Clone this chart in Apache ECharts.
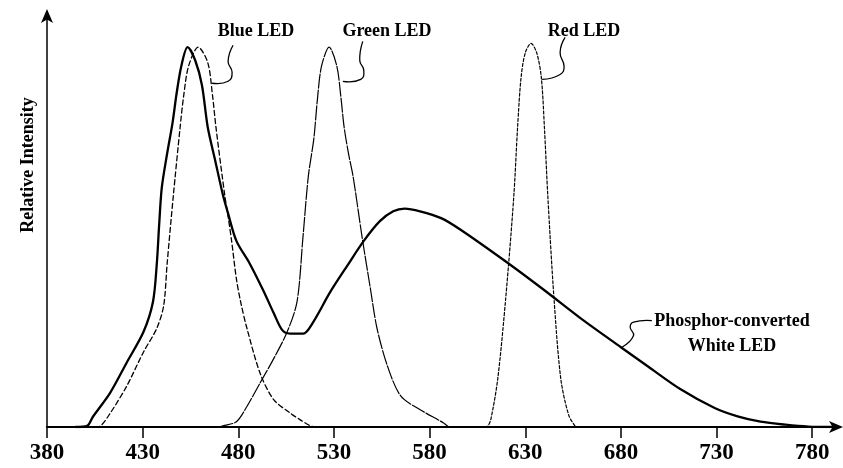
<!DOCTYPE html>
<html>
<head>
<meta charset="utf-8">
<title>LED emission spectra</title>
<script src="https://cdn.jsdelivr.net/npm/echarts@6/dist/echarts.min.js"></script>
<style>
  html, body { margin: 0; padding: 0; background: #fff; }
  #chart { width: 843px; height: 468px; }
</style>
</head>
<body>
<div id="chart"></div>
<script>
// Wavelength tick labels (nm)
const wavelengthTicks = [380, 430, 480, 530, 580, 630, 680, 730, 780];

// Relative intensity spectra: [wavelength nm, relative intensity]
const whiteLED = [
  [395, 0], [401, 0.003], [404, 0.027], [413, 0.09], [421.7, 0.17], [430.4, 0.25],
  [435.4, 0.33], [437.4, 0.43], [438.6, 0.53], [440, 0.63], [442.8, 0.72], [445.6, 0.80],
  [447.8, 0.88], [450.2, 0.95], [453.5, 1.0], [457.5, 0.965], [461, 0.9], [464, 0.79],
  [468, 0.7], [472, 0.61], [474.5, 0.565], [479, 0.49], [486, 0.43], [493, 0.36],
  [498.5, 0.30], [503, 0.255], [507, 0.246], [514, 0.246], [519, 0.275], [528, 0.355],
  [537, 0.425], [545.6, 0.49], [554, 0.542], [561, 0.568], [567, 0.575], [575, 0.568],
  [586, 0.55], [596, 0.52], [620, 0.435], [640, 0.36], [659, 0.286], [680, 0.21],
  [694, 0.16], [711, 0.1], [729, 0.05], [741, 0.028], [753, 0.014], [766, 0.006],
  [778, 0.001], [790, 0]
];

const blueLED = [
  [405, 0], [407.7, 0.002], [413, 0.036], [421.7, 0.108], [430.4, 0.197],
  [437.4, 0.26], [441, 0.32], [442.8, 0.43], [446, 0.607], [449.6, 0.79],
  [451.5, 0.874], [454, 0.95], [459, 1.0], [464, 0.96], [466.5, 0.874],
  [468.3, 0.79], [473, 0.607], [474.5, 0.56], [476.5, 0.49], [479, 0.39],
  [481.2, 0.33], [484.5, 0.26], [491.5, 0.14], [498.5, 0.072], [507, 0.037],
  [512, 0.02], [517.7, 0.003], [520, 0]
];

const greenLED = [
  [470, 0], [472, 0.003], [479, 0.014], [484.5, 0.054], [491.5, 0.117],
  [498.5, 0.18], [505.5, 0.25], [510.7, 0.33], [513.8, 0.5], [516.6, 0.66],
  [519.5, 0.76], [521.3, 0.86], [523.5, 0.95], [527.5, 1.0], [531.5, 0.95],
  [533.6, 0.87], [535.3, 0.79], [537.6, 0.72], [540, 0.66], [544.7, 0.5],
  [549, 0.366], [552.5, 0.26], [558, 0.16], [565, 0.081], [575.3, 0.045],
  [587.5, 0.01], [590, 0]
];

const redLED = [
  [609, 0], [610.4, 0.002], [612, 0.02], [615.6, 0.126], [619.8, 0.34],
  [624, 0.607], [626, 0.79], [627.8, 0.92], [630, 0.985], [633, 1.01],
  [636, 0.985], [638.4, 0.92], [640, 0.79], [641.8, 0.607], [645, 0.34],
  [648.6, 0.126], [652.8, 0.03], [656.4, 0]
];

// Callout labels and the spectrum point each leader line touches
const calloutNames = ['Blue LED', 'Green LED', 'Red LED', 'Phosphor-converted\nWhite LED'];
const calloutAnchors = [[466.3, 0.905], [534.6, 0.91], [638.8, 0.915], [680.5, 0.21]];

const serif = '"Liberation Serif", "Times New Roman", serif';
const chart = echarts.init(document.getElementById('chart'), null, { renderer: 'canvas' });

function lineSeries(name, data, width, dash, z) {
  return {
    name: name,
    type: 'line',
    data: data,
    showSymbol: false,
    smooth: 0.3,
    z: z,
    lineStyle: { color: '#000', width: width, type: dash, cap: 'round', join: 'round' },
    emphasis: { disabled: true },
    silent: true
  };
}

chart.setOption({
  animation: false,
  backgroundColor: '#fff',
  grid: { left: 47, right: 4, top: 13, bottom: 41, containLabel: false },
  xAxis: {
    type: 'value',
    min: 380,
    max: 794,
    axisLine: {
      show: true,
      symbol: ['none', 'arrow'],
      symbolSize: [9, 14],
      symbolOffset: [0, 4],
      lineStyle: { color: '#000', width: 2 }
    },
    axisTick: {
      show: true,
      inside: false,
      length: 11,
      customValues: wavelengthTicks,
      lineStyle: { color: '#000', width: 1.5 }
    },
    axisLabel: {
      show: true,
      customValues: wavelengthTicks,
      margin: 15,
      color: '#000',
      fontFamily: serif,
      fontWeight: 'bold',
      fontSize: 23
    },
    splitLine: { show: false }
  },
  yAxis: {
    type: 'value',
    min: 0,
    max: 1.09,
    axisLine: {
      show: true,
      symbol: ['none', 'arrow'],
      symbolSize: [9, 14],
      symbolOffset: [0, 4],
      lineStyle: { color: '#000', width: 1.5 }
    },
    axisTick: { show: false },
    axisLabel: { show: false },
    splitLine: { show: false }
  },
  series: [
    lineSeries('Blue LED', blueLED, 1.3, [5, 3], 2),
    lineSeries('Green LED', greenLED, 1.2, [14, 2], 2),
    lineSeries('Red LED', redLED, 1.2, [3, 2], 2),
    lineSeries('Phosphor-converted White LED', whiteLED, 2.3, 'solid', 3)
  ]
});

// Curly leader shapes, relative to the point they touch on each spectrum
const leaderShapes = [
  [[0, 0], [16, -2], [20, -11], [16, -22], [21, -38]],
  [[0, 0], [18, -2], [21, -11], [17, -21], [20, -40]],
  [[0, 0], [18, -5], [22, -13], [18, -27], [23, -42]],
  [[0, 0], [11.6, -11.6], [8.3, -20], [11.6, -25], [30, -26.6]]
];
// Label centres (pixels)
const labelCentres = [[256, 31], [387, 31], [584, 31], [732, 334]];

const graphics = [];
calloutAnchors.forEach(function (pt, i) {
  const p = chart.convertToPixel({ gridIndex: 0 }, pt);
  graphics.push({
    type: 'polyline',
    silent: true,
    shape: {
      points: leaderShapes[i].map(function (d) { return [p[0] + d[0], p[1] + d[1]]; }),
      smooth: 0.5
    },
    style: { stroke: '#000', lineWidth: 1.3, fill: null }
  });
  graphics.push({
    type: 'text',
    silent: true,
    x: labelCentres[i][0],
    y: labelCentres[i][1],
    style: {
      text: calloutNames[i],
      font: 'bold 18px ' + serif,
      fill: '#000',
      align: 'center',
      verticalAlign: 'middle',
      textAlign: 'center',
      textVerticalAlign: 'middle',
      lineHeight: 25
    }
  });
});

// Vertical axis title
graphics.push({
  type: 'text',
  silent: true,
  x: 28,
  y: 165,
  rotation: Math.PI / 2,
  style: {
    text: 'Relative Intensity',
    font: 'bold 18px ' + serif,
    fill: '#000',
    align: 'center',
    verticalAlign: 'middle',
    textAlign: 'center',
    textVerticalAlign: 'middle'
  }
});

chart.setOption({ graphic: graphics });
</script>
</body>
</html>
